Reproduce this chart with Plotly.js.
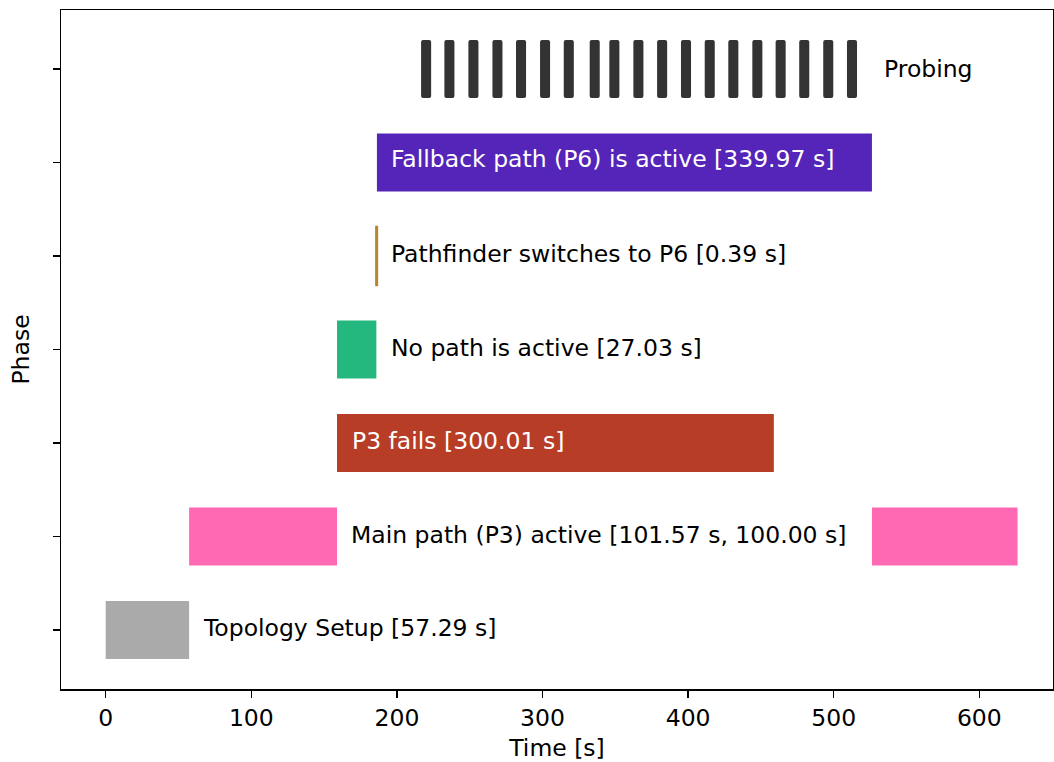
<!DOCTYPE html>
<html>
<head>
<meta charset="utf-8">
<script src="https://cdn.plot.ly/plotly-3.0.1.min.js"></script>
<style>html,body{margin:0;padding:0;background:#fff;}#chart{width:1054px;height:762px;}</style>
</head>
<body>
<div id="chart"></div>
<script>
// ---- data ----
const phases = ["Topology Setup", "Main path (P3) active", "P3 fails", "No path is active",
                "Pathfinder switches to P6", "Fallback path (P6) is active", "Probing"];
const topologyStart = [0];
const topologyDur = [57.29];
const mainStart = [57.29, 526.25];
const mainDur = [101.57, 100.00];
const failStart = [158.86];
const failDur = [300.01];
const noPathStart = [158.86];
const noPathDur = [27.03];
const switchStart = [185.89];
const switchDur = [0.39];
const fallbackStart = [186.28];
const fallbackDur = [339.97];
const probeStart = [216.6, 232.6, 249.1, 265.6, 281.8, 298.3, 314.6, 332.4, 345.9, 362.4,
                    378.7, 395.1, 411.4, 427.6, 444.1, 460.1, 476.3, 492.8, 509.1];
const probeDur = 6.9;
const labels = ["Topology Setup [57.29 s]", "Main path (P3) active [101.57 s, 100.00 s]",
                "P3 fails [300.01 s]", "No path is active [27.03 s]",
                "Pathfinder switches to P6 [0.39 s]", "Fallback path (P6) is active [339.97 s]",
                "Probing"];
const colors = ["#aaaaaa", "#ff69b4", "#b83d26", "#24b87e", "#b8862f", "#5524b8", "#333333"];
const xTicks = [0, 100, 200, 300, 400, 500, 600];

const FONT = "DejaVu Sans, sans-serif";
const FS = 23.5;
const W = 0.62;

function barTrace(row, starts, durs, extra) {
  const t = {
    type: "bar", orientation: "h",
    y: starts.map(() => row), x: durs, base: starts,
    width: starts.map(() => W),
    marker: {color: colors[row], line: {width: 0}},
    hoverinfo: "skip", showlegend: false
  };
  return Object.assign(t, extra || {});
}

const traces = [
  barTrace(0, topologyStart, topologyDur),
  barTrace(1, mainStart, mainDur),
  barTrace(2, failStart, failDur),
  barTrace(3, noPathStart, noPathDur),
  barTrace(4, switchStart, switchDur, {marker: {color: colors[4], line: {color: colors[4], width: 2.5}}}),
  barTrace(5, fallbackStart, fallbackDur),
  barTrace(6, probeStart, probeStart.map(() => probeDur), {marker: {color: colors[6], cornerradius: 2, line: {width: 0}}})
];

function ann(x, y, text, color, shift, yshift) {
  return {x: x, y: y, xref: "x", yref: "y", text: text, showarrow: false,
          xanchor: "left", yanchor: "middle", xshift: shift, yshift: yshift,
          font: {family: FONT, size: FS, color: color}};
}
const annotations = [
  ann(topologyStart[0] + topologyDur[0], 0, labels[0], "#000", 12, 2),
  ann(mainStart[0] + mainDur[0], 1, labels[1], "#000", 12, 2),
  ann(failStart[0], 2, labels[2], "#fff", 13, 2),
  ann(noPathStart[0] + noPathDur[0], 3, labels[3], "#000", 13, 2),
  ann(switchStart[0] + switchDur[0], 4, labels[4], "#000", 12, 2),
  ann(fallbackStart[0], 5, labels[5], "#fff", 12, 3),
  ann(fallbackStart[0] + fallbackDur[0], 6, labels[6], "#000", 10, 0)
];

const layout = {
  width: 1054, height: 762,
  margin: {l: 61, r: 1, t: 10, b: 73},
  paper_bgcolor: "#fff", plot_bgcolor: "#fff",
  barmode: "overlay",
  font: {family: FONT, size: FS, color: "#000"},
  xaxis: {
    range: [-30.7, 650.6], tickvals: xTicks, ticktext: xTicks.map(String),
    showgrid: false, zeroline: false, showline: true, linecolor: "#000", linewidth: 1.5,
    mirror: true, ticks: "outside", ticklen: 7, tickwidth: 1.5, tickcolor: "#000",
    tickfont: {family: FONT, size: FS, color: "#000"},
    title: {text: "Time [s]", font: {family: FONT, size: FS, color: "#000"}, standoff: 10}
  },
  yaxis: {
    range: [-0.63, 6.63], tickvals: phases.map((p, i) => i), showticklabels: false,
    showgrid: false, zeroline: false, showline: true, linecolor: "#000", linewidth: 1.5,
    mirror: true, ticks: "outside", ticklen: 7, tickwidth: 1.5, tickcolor: "#000",
    title: {text: "Phase", font: {family: FONT, size: FS, color: "#000"}, standoff: 16}
  },
  annotations: annotations
};

Plotly.newPlot("chart", traces, layout, {displayModeBar: false, staticPlot: true});
</script>
</body>
</html>
